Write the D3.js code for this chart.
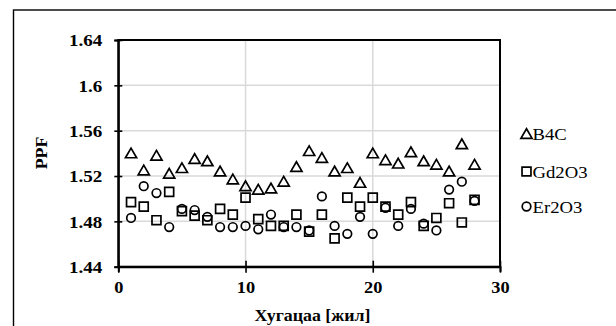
<!DOCTYPE html>
<html>
<head>
<meta charset="utf-8">
<script src="https://cdn.jsdelivr.net/npm/d3@7"></script>
<style>
  html, body { margin: 0; padding: 0; background: #fff; }
  svg { display: block; }
  text { font-family: "Liberation Serif", "Times New Roman", serif; fill: #000; }
</style>
</head>
<body>
<svg id="chart" width="616" height="326"></svg>
<script>
// Operating time in years
const years = [1,2,3,4,5,6,7,8,9,10,11,12,13,14,15,16,17,18,19,20,21,22,23,24,25,26,27,28];

// Power peaking factor per absorber material
const b4c = [1.540,1.525,1.538,1.522,1.527,1.535,1.533,1.524,1.517,1.511,1.508,1.509,1.515,1.528,
             1.542,1.536,1.524,1.527,1.514,1.540,1.534,1.531,1.541,1.533,1.530,1.524,1.548,1.530];
const gd2o3 = [1.497,1.493,1.481,1.506,1.489,1.485,1.481,1.491,1.486,1.501,1.482,1.476,1.476,1.486,
               1.471,1.486,1.465,1.501,1.493,1.501,1.493,1.486,1.497,1.476,1.483,1.496,1.479,1.499];
const er2o3 = [1.483,1.511,1.505,1.475,1.491,1.490,1.484,1.475,1.475,1.476,1.473,1.486,1.475,1.475,
               1.472,1.502,1.476,1.469,1.484,1.469,1.492,1.476,1.491,1.478,1.472,1.508,1.515,1.498];

const seriesNames = ["B4C", "Gd2O3", "Er2O3"];
const xTicks = [0, 10, 20, 30];
const yTicks = [1.44, 1.48, 1.52, 1.56, 1.60, 1.64];

const svg = d3.select("#chart");

// outer frame of the figure
svg.append("rect")
  .attr("x", 13.5).attr("y", 10).attr("width", 700).attr("height", 400)
  .attr("fill", "none").attr("stroke", "#000").attr("stroke-width", 1.4);

const plotL = 118.3, plotR = 500, plotT = 40, plotB = 266.7;
const x = d3.scaleLinear().domain([0, 30]).range([plotL, plotR]);
const y = d3.scaleLinear().domain([1.44, 1.64]).range([plotB, plotT]);

// gridlines
svg.append("g").selectAll("line").data(yTicks.slice(1, -1)).join("line")
  .attr("x1", plotL).attr("x2", plotR)
  .attr("y1", d => y(d)).attr("y2", d => y(d))
  .attr("stroke", "#d9d9d9").attr("stroke-width", 1.5);
svg.append("g").selectAll("line").data(xTicks.slice(1, -1)).join("line")
  .attr("y1", plotT).attr("y2", plotB)
  .attr("x1", d => x(d)).attr("x2", d => x(d))
  .attr("stroke", "#d9d9d9").attr("stroke-width", 1.5);

// plot border
svg.append("rect")
  .attr("x", plotL).attr("y", plotT).attr("width", plotR - plotL).attr("height", plotB - plotT)
  .attr("fill", "none").attr("stroke", "#000").attr("stroke-width", 2);

const fmt = d => String(+d.toFixed(2));

// y axis with crossing ticks
const gy = svg.append("g").attr("transform", `translate(${plotL},0)`)
  .call(d3.axisLeft(y).tickValues(yTicks).tickFormat(fmt).tickSize(4).tickPadding(12));
gy.select(".domain").attr("stroke", "#000").attr("stroke-width", 2);
gy.selectAll(".tick line").attr("x1", 4).attr("x2", -4).attr("stroke", "#000").attr("stroke-width", 1.6);
gy.selectAll(".tick text")
  .attr("font-family", "Liberation Serif").attr("font-size", 17).attr("font-weight", "bold")
  .attr("dy", "0.35em")
  .each(function() {
    const t = d3.select(this);
    const xx = +t.attr("x");
    t.attr("x", null).attr("transform", `translate(${xx},0) scale(1.12,1)`);
  });

// x axis with crossing ticks
const gx = svg.append("g").attr("transform", `translate(0,${plotB})`)
  .call(d3.axisBottom(x).tickValues(xTicks).tickFormat(d3.format("d")).tickSize(5).tickPadding(9));
gx.select(".domain").attr("stroke", "#000").attr("stroke-width", 2);
gx.selectAll(".tick line").attr("y1", -6).attr("y2", 6).attr("stroke", "#000").attr("stroke-width", 1.6);
gx.selectAll(".tick text")
  .attr("font-family", "Liberation Serif").attr("font-size", 17).attr("font-weight", "bold")
  .each(function() {
    const t = d3.select(this);
    const yy = +t.attr("y");
    t.attr("y", null).attr("transform", `translate(0,${yy}) scale(1.08,1)`);
  });

// axis titles
svg.append("text")
  .attr("transform", `translate(312.5,321) scale(1.05,1)`)
  .attr("text-anchor", "middle")
  .attr("font-size", 17).attr("font-weight", "bold")
  .text("Хугацаа [жил]");
svg.append("text")
  .attr("transform", `translate(47,153) rotate(-90) scale(1.05,1)`)
  .attr("text-anchor", "middle")
  .attr("font-size", 17).attr("font-weight", "bold")
  .text("PPF");

// marker shapes
const shapes = [
  d3.symbol().type(d3.symbolTriangle).size(54),
  d3.symbol().type(d3.symbolSquare).size(80),
  d3.symbol().type(d3.symbolCircle).size(58)
];
const triOffset = 1.2; // centre the triangle's bounding box on the point

const seriesData = [b4c, gd2o3, er2o3];

// draw in reverse so triangles sit on top
[2, 1, 0].forEach(i => {
  svg.append("g").selectAll("path").data(years).join("path")
    .attr("d", shapes[i]())
    .attr("transform", (d, j) => `translate(${x(d)},${y(seriesData[i][j]) + (i === 0 ? triOffset : 0)})`)
    .attr("fill", "none").attr("stroke", "#000").attr("stroke-width", 1.7);
});

// legend
const legendY = [134, 171.5, 206.5];
const lg = svg.append("g");
seriesNames.forEach((name, i) => {
  lg.append("path")
    .attr("d", shapes[i]())
    .attr("transform", `translate(526.5,${legendY[i] + (i === 0 ? triOffset : 0)})`)
    .attr("fill", "none").attr("stroke", "#000").attr("stroke-width", 1.7);
  lg.append("text")
    .attr("transform", `translate(532.5,${legendY[i] + 6}) scale(1.1,1)`)
    .attr("font-size", 17)
    .text(name);
});
</script>
</body>
</html>
